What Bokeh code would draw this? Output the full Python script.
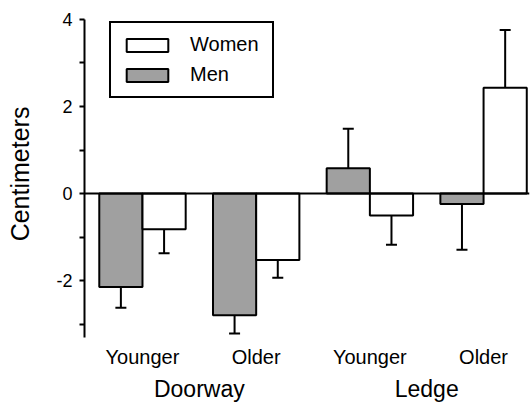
from bokeh.plotting import figure
from bokeh.models import (Range1d, FixedTicker, LinearAxis, Span, Legend,
                          LegendItem, ColumnDataSource)
from bokeh.embed import file_html
from bokeh.resources import INLINE

# ---- data ----
groups = ["Doorway", "Ledge"]
ages = ["Younger", "Older", "Younger", "Older"]
men = [-2.14, -2.79, 0.58, -0.24]
men_err = [0.48, 0.42, 0.91, 1.05]
women = [-0.82, -1.52, -0.50, 2.43]
women_err = [0.55, 0.41, 0.67, 1.32]
y_ticks = [-2, 0, 2, 4]
y_minor = [-3, -1, 1, 3]

FONT = "Liberation Sans"
MEN_COLOR = "#a0a0a0"
LW = 2

pos = list(range(1, len(ages) + 1))
off = 0.19
bw = 0.38


def tips(vals, errs):
    return [v + (e if v >= 0 else -e) for v, e in zip(vals, errs)]


src_m = ColumnDataSource(dict(x=[p - off for p in pos], top=men,
                              tip=tips(men, men_err)))
src_w = ColumnDataSource(dict(x=[p + off for p in pos], top=women,
                              tip=tips(women, women_err)))

p = figure(width=530, height=405, output_backend="svg", toolbar_location=None,
           x_range=Range1d(0.49, 4.404), y_range=Range1d(-3.3, 4.2),
           x_axis_location=None, y_axis_location="left",
           min_border_left=84, min_border_right=1, min_border_top=10,
           min_border_bottom=68)
p.grid.visible = False
p.outline_line_color = None
p.background_fill_color = "white"

ya = p.yaxis[0]
ya.ticker = FixedTicker(ticks=y_ticks, minor_ticks=y_minor)
ya.major_label_overrides = {t: str(t) for t in y_ticks}
ya.bounds = (-3.3, 4)
ya.axis_line_width = LW
ya.axis_line_color = "black"
ya.major_tick_line_width = LW
ya.minor_tick_line_width = LW
ya.major_tick_out = 5
ya.minor_tick_out = 5
ya.major_tick_in = 0
ya.minor_tick_in = 0
ya.major_label_text_font = FONT
ya.major_label_text_font_size = "18px"
ya.major_label_text_color = "black"
ya.major_label_standoff = 7
ya.axis_label = "Centimeters"
ya.axis_label_text_font = FONT
ya.axis_label_text_font_size = "25px"
ya.axis_label_text_font_style = "normal"
ya.axis_label_text_color = "black"
ya.axis_label_standoff = 19


def label_axis(ticks, names, size, standoff):
    ax = LinearAxis(ticker=FixedTicker(ticks=ticks),
                    major_label_overrides={t: n for t, n in zip(ticks, names)})
    ax.axis_line_color = None
    ax.major_tick_line_color = None
    ax.minor_tick_line_color = None
    ax.major_tick_out = 0
    ax.major_tick_in = 0
    ax.major_label_standoff = standoff
    ax.major_label_text_font = FONT
    ax.major_label_text_font_size = size
    ax.major_label_text_color = "black"
    return ax


p.add_layout(label_axis(pos, ages, "20px", 8), "below")
gpos = [(pos[2 * i] + pos[2 * i + 1]) / 2 for i in range(len(groups))]
p.add_layout(label_axis(gpos, groups, "23px", 5), "below")

p.add_layout(Span(location=0, dimension="width", line_color="black",
                  line_width=LW))

for src in (src_m, src_w):
    p.segment(x0="x", y0="top", x1="x", y1="tip", source=src,
              line_color="black", line_width=LW)
    p.scatter(x="x", y="tip", source=src, marker="dash", size=11,
              line_color="black", line_width=LW)

rm = p.vbar(x="x", top="top", bottom=0, width=bw, source=src_m,
            fill_color=MEN_COLOR, line_color="black", line_width=LW)
rw = p.vbar(x="x", top="top", bottom=0, width=bw, source=src_w,
            fill_color="white", line_color="black", line_width=LW)

legend = Legend(items=[LegendItem(label="Women", renderers=[rw]),
                       LegendItem(label="Men", renderers=[rm])],
                location=(25, 239), margin=0, padding=10, spacing=7,
                glyph_width=52, glyph_height=16, label_standoff=17,
                label_width=72, label_height=16,
                label_text_font=FONT, label_text_font_size="20px",
                label_text_color="black",
                border_line_color="black", border_line_width=LW,
                border_line_alpha=1,
                background_fill_color="white", background_fill_alpha=1)
p.add_layout(legend)

open("out.html", "w").write(file_html(p, INLINE))
